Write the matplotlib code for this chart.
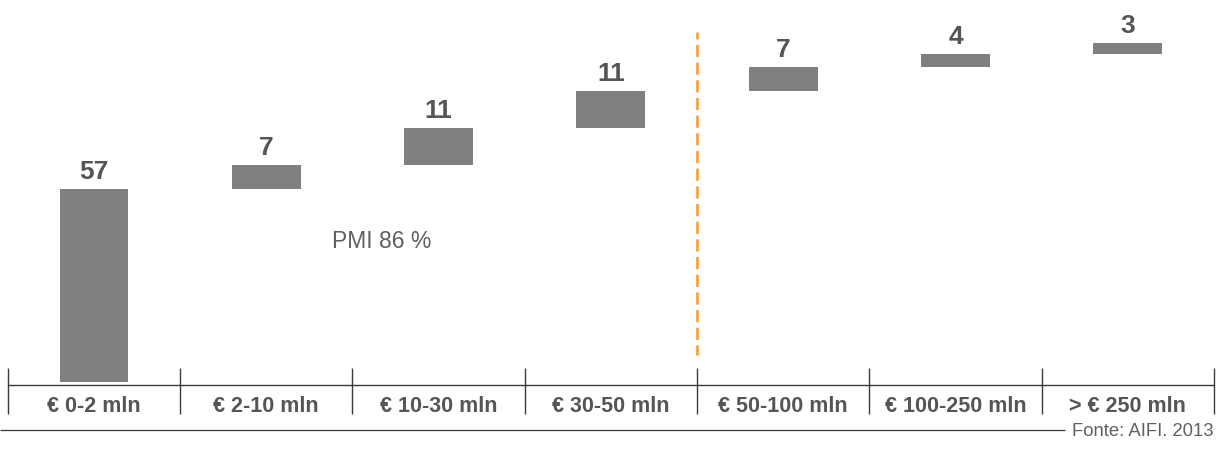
import matplotlib
matplotlib.use("Agg")
import matplotlib.pyplot as plt
import numpy as np

# Fund size classes and share of operations (%)
categories = ["€ 0-2 mln", "€ 2-10 mln", "€ 10-30 mln", "€ 30-50 mln",
              "€ 50-100 mln", "€ 100-250 mln", "> € 250 mln"]
shares = [57, 7, 11, 11, 7, 4, 3]
sme_label = "PMI 86 %"
source_label = "Fonte: AIFI. 2013"

plt.rcParams["font.family"] = ["Liberation Sans", "DejaVu Sans"]

BAR_COLOR = "#808083"
TEXT_COLOR = "#555557"
LINE_COLOR = "#3a3a3a"
ORANGE = "#f5a033"

fig = plt.figure(figsize=(12.22, 4.57), dpi=100)
ax = fig.add_axes([0, 0, 1, 1])
ax.set_xlim(-0.5456, 6.5467)
ax.set_ylim(-22.15, 112.82)
ax.axis("off")

x = np.arange(len(categories))
vals = np.array(shares, dtype=float)
bottoms = np.concatenate([[0], np.cumsum(vals)[:-1]])
tops = bottoms + vals

# Waterfall bars
ax.bar(x, vals, bottom=bottoms, width=0.40, color=BAR_COLOR, zorder=2)

# Value labels above each bar
for xi, top, v in zip(x, tops, shares):
    ax.annotate(f"{v}", (xi, top), xytext=(0, 7.2), textcoords="offset points",
                ha="center", va="baseline", fontsize=19, fontweight="bold",
                color=TEXT_COLOR)

# Category axis: baseline, separators and labels
n = len(categories)
ax.hlines(-0.89, -0.5, n - 0.5, color=LINE_COLOR, lw=1.0, zorder=3)
ax.vlines(np.arange(n + 1) - 0.5, -9.45, 4.13, color=LINE_COLOR, lw=1.0, zorder=3)
for xi, lab in zip(x, categories):
    ax.text(xi, -8.86, lab, ha="center", va="baseline", fontsize=15.5,
            fontweight="bold", color=TEXT_COLOR)

# Divider between SME classes and larger funds
ax.plot([3.5, 3.5], [103.4, 7.97], color=ORANGE, lw=1.9,
        linestyle=(2.0, (4.6, 2.1)), solid_capstyle="butt", zorder=1)

ax.text(1.381, 39.6, sme_label, ha="left", va="baseline", fontsize=16.5,
        color="#606062")

# Source footer
ax.hlines(-14.2, -0.5456, (1065 - 94) / 172.3, color=LINE_COLOR, lw=0.9)
ax.text(6.5, -15.9, source_label, ha="right", va="baseline", fontsize=13.3,
        color="#606062")

fig.savefig("out.png", dpi=100)
